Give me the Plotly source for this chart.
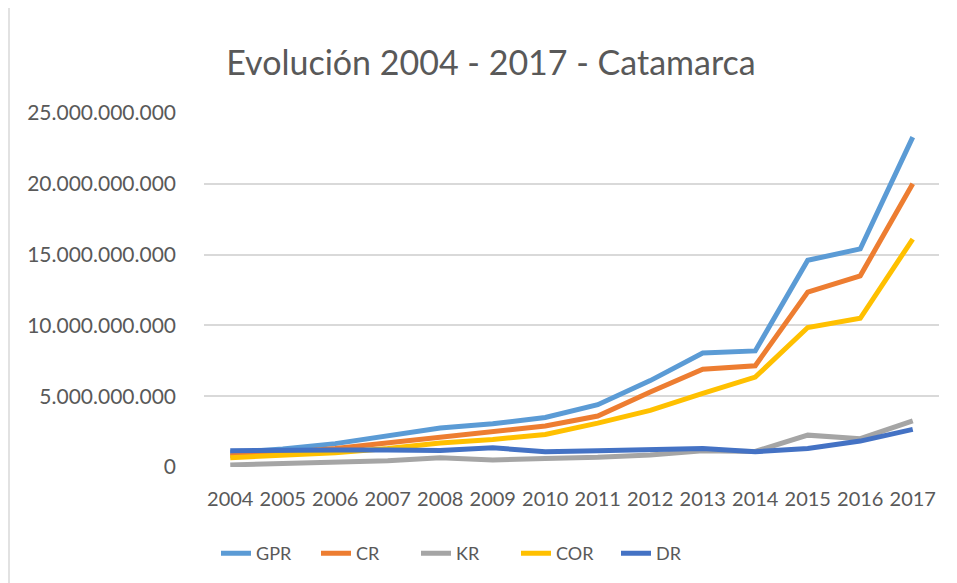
import plotly.graph_objects as go

years = ["2004", "2005", "2006", "2007", "2008", "2009", "2010", "2011", "2012", "2013", "2014", "2015", "2016", "2017"]
GPR = [1.0e9, 1.27e9, 1.65e9, 2.2e9, 2.75e9, 3.05e9, 3.5e9, 4.4e9, 6.1e9, 8.05e9, 8.2e9, 14.6e9, 15.4e9, 23.3e9]
CR = [0.8e9, 1.0e9, 1.3e9, 1.7e9, 2.15e9, 2.55e9, 2.9e9, 3.6e9, 5.3e9, 6.9e9, 7.15e9, 12.35e9, 13.5e9, 20.0e9]
KR = [0.15e9, 0.25e9, 0.35e9, 0.45e9, 0.65e9, 0.5e9, 0.6e9, 0.68e9, 0.85e9, 1.15e9, 1.1e9, 2.25e9, 2.0e9, 3.25e9]
COR = [0.66e9, 0.85e9, 1.0e9, 1.3e9, 1.7e9, 1.95e9, 2.3e9, 3.1e9, 4.0e9, 5.2e9, 6.35e9, 9.85e9, 10.5e9, 16.1e9]
DR = [1.15e9, 1.2e9, 1.2e9, 1.2e9, 1.17e9, 1.36e9, 1.08e9, 1.15e9, 1.2e9, 1.3e9, 1.08e9, 1.3e9, 1.83e9, 2.66e9]

series = [("GPR", GPR, "#5B9BD5"), ("CR", CR, "#ED7D31"), ("KR", KR, "#A5A5A5"),
          ("COR", COR, "#FFC000"), ("DR", DR, "#4472C4")]

fig = go.Figure()
for name, vals, col in series:
    fig.add_trace(go.Scatter(x=years, y=vals, name=name, mode="lines",
                             line=dict(color=col, width=5)))

font_family = "Lato, Open Sans, sans-serif"
W, H = 949, 575
L, R, T, B = 196, 18, 105, 116
PW, PH = W - L - R, H - T - B
fig.update_layout(
    width=W, height=H,
    paper_bgcolor="white", plot_bgcolor="white",
    margin=dict(l=L, r=R, t=T, b=B, autoexpand=False),
    separators=",.",
    title=dict(text="Evolución 2004 - 2017 - Catamarca", x=483 / W, xanchor="center",
               y=1 - 55 / H, yanchor="middle",
               font=dict(family=font_family, size=34, color="#595959")),
    xaxis=dict(type="category", showgrid=False, zeroline=False, showline=False,
               ticks="", ticklabelstandoff=18,
               tickfont=dict(family=font_family, size=20, color="#595959"),
               range=[-0.5, 13.5]),
    yaxis=dict(range=[0, 25e9], dtick=5e9, tickformat=",d", showgrid=True,
               gridcolor="#D9D9D9", gridwidth=1.5, zeroline=False, showline=False,
               ticks="", ticklabelstandoff=27,
               tickfont=dict(family=font_family, size=21, color="#595959")),
    legend=dict(orientation="h", x=(216 - 8 - L) / PW, xanchor="left",
                y=-0.1925, yanchor="top", entrywidth=55, entrywidthmode="pixels",
                font=dict(family=font_family, size=18, color="#595959"),
                traceorder="normal"),
    shapes=[dict(type="line", xref="paper", yref="paper",
                 x0=(1 - L) / PW, x1=(1 - L) / PW, y0=-B / PH, y1=(H - B) / PH + 0.05,
                 line=dict(color="#D9D9D9", width=1.5))],
)

fig.write_html("out.html")
